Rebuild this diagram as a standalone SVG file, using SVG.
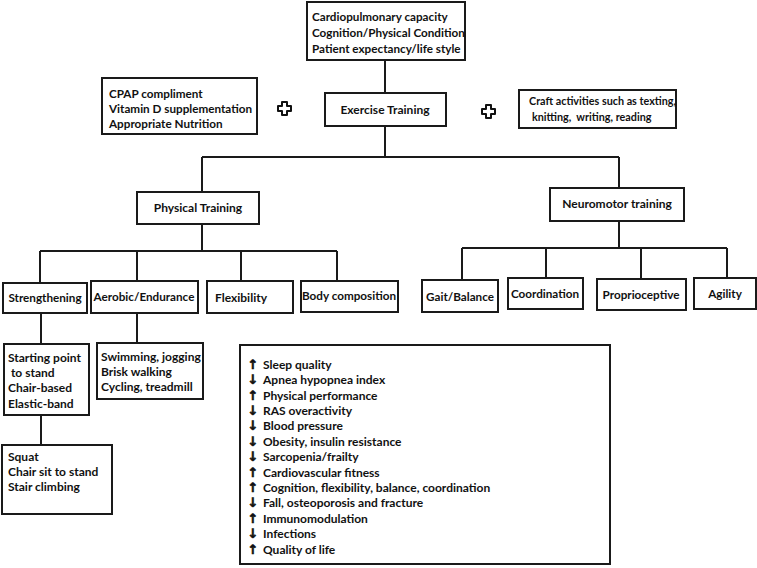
<svg xmlns="http://www.w3.org/2000/svg" width="757" height="568" viewBox="0 0 757 568">
<style>
.box{fill:#fff;stroke:#1a1a1a;stroke-width:2}
.t{font-family:Lato,"Open Sans","Liberation Sans",sans-serif;font-weight:bold;font-size:12px;fill:#111}
.s{font-size:11.5px}
.m{font-size:11.7px}
.c{text-anchor:middle}
.pre{white-space:pre}
.ln{fill:none;stroke:#1a1a1a;stroke-width:2}
.plus{fill:#fff;stroke:#111;stroke-width:2;stroke-linejoin:round}
.ar{font-family:"DejaVu Sans",sans-serif;font-weight:bold;font-size:13px;text-anchor:middle;fill:#111;stroke:#111;stroke-width:0.6}
</style>
<g id="connectors" class="ln">
<path d="M385 60V93"/>
<path d="M385 126V157M202 157H619M202 157V192M619 157V188"/>
<path d="M202 224V251M40 251H337M40 251V283M137 251V281M241 251V281M337 251V281"/>
<path d="M619 221V248M462 248H727M462 248V280M546 248V278M641 248V279M727 248V278"/>
<path d="M41 313V344M137 313V343M41 415V445"/>
</g>
<g id="top">
<rect class="box" x="307" y="2" width="158" height="58"/>
<text class="t m" x="312" y="21">Cardiopulmonary capacity</text>
<text class="t m" x="312" y="37">Cognition/Physical Condition</text>
<text class="t m" x="312" y="53">Patient expectancy/life style</text>
</g>
<g id="cpap">
<rect class="box" x="102" y="78" width="155" height="56"/>
<text class="t m" x="109" y="98">CPAP compliment</text>
<text class="t m" x="109" y="113">Vitamin D supplementation</text>
<text class="t m" x="109" y="128">Appropriate Nutrition</text>
</g>
<g id="plus-left"><path class="plus" d="M282 102h5v4h4v5h-4v4h-5v-4h-4v-5h4z"/></g>
<g id="exercise">
<rect class="box" x="325" y="93" width="121" height="33"/>
<text class="t c" x="385" y="114">Exercise Training</text>
</g>
<g id="plus-right"><path class="plus" d="M486 105h5v4h4v5h-4v4h-5v-4h-4v-5h4z"/></g>
<g id="craft">
<rect class="box" x="519" y="90" width="157" height="38"/>
<text class="t pre" style="font-size:10.8px" x="529" y="105">Craft activities such as texting,</text>
<text class="t pre" style="font-size:10.8px" x="532" y="121">knitting,  writing, reading</text>
</g>
<g id="physical">
<rect class="box" x="137" y="192" width="122" height="32"/>
<text class="t c" x="198" y="212">Physical Training</text>
</g>
<g id="neuromotor">
<rect class="box" x="550" y="188" width="134" height="33"/>
<text class="t c" x="617" y="208">Neuromotor training</text>
</g>
<g id="strengthening">
<rect class="box" x="3" y="283" width="84" height="30"/>
<text class="t c m" x="45" y="302">Strengthening</text>
</g>
<g id="aerobic">
<rect class="box" x="91" y="281" width="107" height="32"/>
<text class="t c m" x="144" y="301">Aerobic/Endurance</text>
</g>
<g id="flexibility">
<rect class="box" x="207" y="281" width="86" height="32"/>
<text class="t" x="215" y="302">Flexibility</text>
</g>
<g id="bodycomp">
<rect class="box" x="301" y="281" width="97" height="31"/>
<text class="t c m" x="349" y="300">Body composition</text>
</g>
<g id="gait">
<rect class="box" x="422" y="280" width="76" height="32"/>
<text class="t c m" x="460" y="301">Gait/Balance</text>
</g>
<g id="coordination">
<rect class="box" x="508" y="278" width="75" height="31"/>
<text class="t c m" x="545" y="298">Coordination</text>
</g>
<g id="proprioceptive">
<rect class="box" x="597" y="279" width="89" height="31"/>
<text class="t c m" x="641" y="299">Proprioceptive</text>
</g>
<g id="agility">
<rect class="box" x="694" y="278" width="62" height="31"/>
<text class="t c m" x="725" y="298">Agility</text>
</g>
<g id="starting">
<rect class="box" x="4" y="344" width="85" height="71"/>
<text class="t" x="8" y="362">Starting point</text>
<text class="t pre" x="8" y="377"> to stand</text>
<text class="t" x="8" y="392">Chair-based</text>
<text class="t" x="8" y="408">Elastic-band</text>
</g>
<g id="swimming">
<rect class="box" x="97" y="343" width="106" height="56"/>
<text class="t" x="101" y="361">Swimming, jogging</text>
<text class="t" x="101" y="376">Brisk walking</text>
<text class="t" x="101" y="391">Cycling, treadmill</text>
</g>
<g id="squat">
<rect class="box" x="2" y="445" width="110" height="69"/>
<text class="t" x="8" y="461">Squat</text>
<text class="t" x="8" y="476">Chair sit to stand</text>
<text class="t" x="8" y="491">Stair climbing</text>
</g>
<g id="outcomes">
<rect class="box" x="240" y="345" width="370" height="219"/>
<g class="ar">
<text x="253" y="369">↑</text>
<text x="253" y="384">↓</text>
<text x="253" y="400">↑</text>
<text x="253" y="415">↓</text>
<text x="253" y="430">↓</text>
<text x="253" y="446">↓</text>
<text x="253" y="461">↓</text>
<text x="253" y="477">↑</text>
<text x="253" y="492">↑</text>
<text x="253" y="507">↓</text>
<text x="253" y="523">↑</text>
<text x="253" y="538">↓</text>
<text x="253" y="554">↑</text>
</g>
<g class="t">
<text x="263" y="369">Sleep quality</text>
<text x="263" y="384">Apnea hypopnea index</text>
<text x="263" y="400">Physical performance</text>
<text x="263" y="415">RAS overactivity</text>
<text x="263" y="430">Blood pressure</text>
<text x="263" y="446">Obesity, insulin resistance</text>
<text x="263" y="461">Sarcopenia/frailty</text>
<text x="263" y="477">Cardiovascular fitness</text>
<text x="263" y="492">Cognition, flexibility, balance, coordination</text>
<text x="263" y="507">Fall, osteoporosis and fracture</text>
<text x="263" y="523">Immunomodulation</text>
<text x="263" y="538">Infections</text>
<text x="263" y="554">Quality of life</text>
</g>
</g>
</svg>
